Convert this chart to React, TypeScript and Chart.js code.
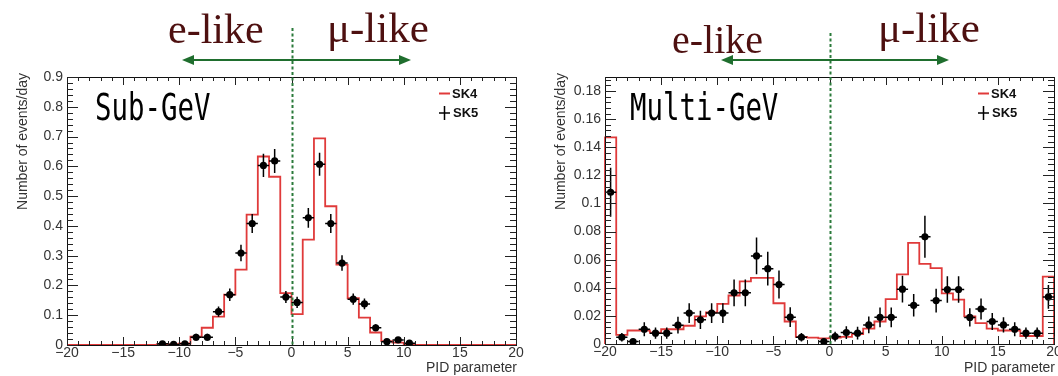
import React, { useEffect, useRef } from "react";
import { Chart, registerables } from "chart.js";

Chart.register(...registerables);

// ---------- data ----------
const BIN_EDGES = [
  -20, -19, -18, -17, -16, -15, -14, -13, -12, -11, -10, -9, -8, -7, -6, -5, -4, -3, -2, -1,
  0, 1, 2, 3, 4, 5, 6, 7, 8, 9, 10, 11, 12, 13, 14, 15, 16, 17, 18, 19, 20,
];

// Sub-GeV, SK4 histogram (one value per bin)
const SUB_SK4 = [
  0, 0, 0, 0, 0, 0, 0, 0, 0.002, 0.003, 0.005, 0.028, 0.058, 0.095, 0.169, 0.253, 0.438, 0.633, 0.565, 0.174,
  0.104, 0.354, 0.694, 0.466, 0.27, 0.157, 0.092, 0.042, 0.013, 0.008, 0.003, 0, 0, 0, 0, 0, 0, 0, 0, 0,
];
// Sub-GeV, SK5 data points
const SUB_SK5_X = [
  -11.5, -10.5, -9.5, -8.5, -7.5, -6.5, -5.5, -4.5, -3.5, -2.5, -1.5, -0.5,
  0.5, 1.5, 2.5, 3.5, 4.5, 5.5, 6.5, 7.5, 8.5, 9.5, 10.5,
];
const SUB_SK5_Y = [
  0.004, 0.002, 0.004, 0.026, 0.026, 0.112, 0.169, 0.309, 0.408, 0.603, 0.618, 0.161,
  0.143, 0.427, 0.607, 0.408, 0.275, 0.154, 0.138, 0.058, 0.011, 0.017, 0.006,
];
const SUB_SK5_ERR = [
  0.005, 0.004, 0.005, 0.012, 0.012, 0.017, 0.021, 0.028, 0.032, 0.039, 0.04, 0.02,
  0.019, 0.033, 0.039, 0.032, 0.026, 0.019, 0.018, 0.012, 0.005, 0.006, 0.004,
];

// Multi-GeV, SK4 histogram
const MULTI_SK4 = [
  0.147, 0.0065, 0.0096, 0.0096, 0.008, 0.0105, 0.0105, 0.013, 0.0196, 0.0225,
  0.0285, 0.0345, 0.0445, 0.047, 0.047, 0.029, 0.016, 0.005, 0.0045, 0.004,
  0.0045, 0.005, 0.007, 0.011, 0.016, 0.032, 0.0495, 0.072, 0.057, 0.054,
  0.036, 0.0316, 0.0196, 0.0148, 0.011, 0.0096, 0.0096, 0.0057, 0.0057, 0.048,
];
// Multi-GeV, SK5 data points
const MULTI_SK5_X = [
  -19.5, -18.5, -17.5, -16.5, -15.5, -14.5, -13.5, -12.5, -11.5, -10.5, -9.5, -8.5, -7.5, -6.5,
  -5.5, -4.5, -3.5, -2.5, -0.5, 0.5, 1.5, 2.5, 3.5, 4.5, 5.5, 6.5, 7.5, 8.5, 9.5, 10.5,
  11.5, 12.5, 13.5, 14.5, 15.5, 16.5, 17.5, 18.5, 19.5,
];
const MULTI_SK5_Y = [
  0.108, 0.0048, 0.0017, 0.0105, 0.0077, 0.0077, 0.0134, 0.022, 0.0172, 0.022, 0.022, 0.0364, 0.0364, 0.0627,
  0.0536, 0.0423, 0.0191, 0.0048, 0.0017, 0.0053, 0.0081, 0.0077, 0.0136, 0.019, 0.019, 0.039, 0.0275, 0.0763, 0.0309, 0.0388,
  0.0388, 0.0189, 0.0249, 0.016, 0.0136, 0.0105, 0.0077, 0.0077, 0.0335,
];
const MULTI_SK5_ERR = [
  0.0175, 0.003, 0.002, 0.005, 0.004, 0.004, 0.006, 0.007, 0.0065, 0.007, 0.007, 0.0095, 0.0095, 0.013,
  0.012, 0.01, 0.007, 0.003, 0.002, 0.0035, 0.0045, 0.0045, 0.006, 0.007, 0.007, 0.0095, 0.008, 0.015, 0.0085, 0.0095,
  0.0095, 0.0065, 0.0075, 0.006, 0.0055, 0.005, 0.004, 0.004, 0.0085,
];

const X_TICKS = [-20, -15, -10, -5, 0, 5, 10, 15, 20];
const SUB_Y_TICKS = [0, 0.1, 0.2, 0.3, 0.4, 0.5, 0.6, 0.7, 0.8, 0.9];
const MULTI_Y_TICKS = [0, 0.02, 0.04, 0.06, 0.08, 0.1, 0.12, 0.14, 0.16, 0.18];
const SUB_Y_MAX = 0.9;
const MULTI_Y_MAX = 0.19;

const PANEL_TITLES = ["Sub-GeV", "Multi-GeV"];
const SIDE_LABELS = ["e-like", "μ-like"];
const LEGEND_LABELS = ["SK4", "SK5"];
const Y_TITLE = "Number of events/day";
const X_TITLE = "PID parameter";

// ---------- styling ----------
const RED = "#e03a3a";
const GREEN = "#1f6e2e";
const MAROON = "#4e1010";
const SANS = "'Liberation Sans', Arial, sans-serif";

type PanelCfg = {
  key: string;
  left: number;
  width: number;
  height: number;
  plotLeft: number;
  plotRight: number;
  plotTop: number;
  plotBottom: number;
  yMax: number;
  yTicks: number[];
  sk4: number[];
  sk5x: number[];
  sk5y: number[];
  sk5err: number[];
  title: string;
  titleX: number;
  yTitleX: number;
  eLike: { x: number; y: number; size: number };
  muLike: { x: number; y: number; size: number };
  arrow: { x1: number; x2: number; y: number };
  dashTop: number;
  legendX: number;
};

const fmtY = (v: number) => (v === 0 ? "0" : String(parseFloat(v.toFixed(3))));
const fmtX = (v: number) => (v < 0 ? "\u2212" + String(-v) : String(v));

function makePlugin(cfg: PanelCfg) {
  return {
    id: "decor_" + cfg.key,
    afterDatasetsDraw(chart: any) {
      const ctx = chart.ctx;
      const xs = chart.scales.x;
      const ys = chart.scales.y;
      ctx.save();
      ctx.strokeStyle = "#000";
      ctx.lineWidth = 1.5;
      cfg.sk5x.forEach((x, i) => {
        const y = cfg.sk5y[i];
        const e = cfg.sk5err[i];
        const px = xs.getPixelForValue(x);
        const py = ys.getPixelForValue(y);
        ctx.beginPath();
        ctx.moveTo(px, ys.getPixelForValue(Math.max(0, y - e)));
        ctx.lineTo(px, ys.getPixelForValue(y + e));
        ctx.moveTo(xs.getPixelForValue(x - 0.5), py);
        ctx.lineTo(xs.getPixelForValue(x + 0.5), py);
        ctx.stroke();
      });
      ctx.restore();
    },
    afterDraw(chart: any) {
      const ctx = chart.ctx;
      const a = chart.chartArea;
      const xs = chart.scales.x;
      const ys = chart.scales.y;
      ctx.save();
      // frame
      ctx.strokeStyle = "#111";
      ctx.lineWidth = 1;
      ctx.strokeRect(Math.round(a.left) + 0.5, Math.round(a.top) + 0.5, Math.round(a.right - a.left), Math.round(a.bottom - a.top));
      // x ticks (top & bottom, inward)
      ctx.strokeStyle = "#222";
      ctx.beginPath();
      for (let v = -20; v <= 20; v += 1) {
        const px = Math.round(xs.getPixelForValue(v)) + 0.5;
        const len = v % 5 === 0 ? 8 : 4;
        ctx.moveTo(px, a.bottom);
        ctx.lineTo(px, a.bottom - len);
        ctx.moveTo(px, a.top);
        ctx.lineTo(px, a.top + len);
      }
      // y ticks (left & right, inward)
      const step = cfg.yTicks[1] - cfg.yTicks[0];
      const minor = step / 5;
      for (let k = 0; k * minor <= cfg.yMax + 1e-9; k++) {
        const v = k * minor;
        const py = Math.round(ys.getPixelForValue(v)) + 0.5;
        const len = k % 5 === 0 ? 11 : 6;
        ctx.moveTo(a.left, py);
        ctx.lineTo(a.left + len, py);
        ctx.moveTo(a.right, py);
        ctx.lineTo(a.right - len, py);
      }
      ctx.stroke();

      // dashed green line at x = 0
      const x0 = Math.round(xs.getPixelForValue(0)) + 0.5;
      ctx.strokeStyle = "#2a7a3a";
      ctx.lineWidth = 2;
      ctx.setLineDash([3, 2.5]);
      ctx.beginPath();
      ctx.moveTo(x0, cfg.dashTop);
      ctx.lineTo(x0, a.bottom);
      ctx.stroke();
      ctx.setLineDash([]);

      // arrow
      const { x1, x2, y } = cfg.arrow;
      ctx.strokeStyle = GREEN;
      ctx.fillStyle = GREEN;
      ctx.lineWidth = 2.2;
      ctx.beginPath();
      ctx.moveTo(x1 + 6, y);
      ctx.lineTo(x2 - 6, y);
      ctx.stroke();
      ctx.beginPath();
      ctx.moveTo(x1, y);
      ctx.lineTo(x1 + 12, y - 5);
      ctx.lineTo(x1 + 12, y + 5);
      ctx.closePath();
      ctx.fill();
      ctx.beginPath();
      ctx.moveTo(x2, y);
      ctx.lineTo(x2 - 12, y - 5);
      ctx.lineTo(x2 - 12, y + 5);
      ctx.closePath();
      ctx.fill();

      // e-like / mu-like
      ctx.fillStyle = MAROON;
      ctx.textAlign = "left";
      ctx.textBaseline = "alphabetic";
      ctx.font = `${cfg.eLike.size}px 'Liberation Serif', 'Times New Roman', serif`;
      ctx.fillText(SIDE_LABELS[0], cfg.eLike.x, cfg.eLike.y);
      ctx.font = `${cfg.muLike.size}px 'Liberation Serif', 'Times New Roman', serif`;
      ctx.fillText(SIDE_LABELS[1], cfg.muLike.x, cfg.muLike.y);

      // panel title (condensed mono)
      ctx.save();
      ctx.fillStyle = "#000";
      ctx.font = "37px 'DejaVu Sans Mono', monospace";
      ctx.translate(cfg.titleX, 120);
      ctx.scale(0.74, 1);
      ctx.fillText(cfg.title, 0, 0);
      ctx.restore();

      // legend
      const lx = cfg.legendX;
      ctx.strokeStyle = RED;
      ctx.lineWidth = 2;
      ctx.beginPath();
      ctx.moveTo(lx, 93.5);
      ctx.lineTo(lx + 11, 93.5);
      ctx.stroke();
      ctx.strokeStyle = "#000";
      ctx.lineWidth = 1.5;
      ctx.beginPath();
      ctx.moveTo(lx, 113);
      ctx.lineTo(lx + 11, 113);
      ctx.moveTo(lx + 5.5, 106);
      ctx.lineTo(lx + 5.5, 120);
      ctx.stroke();
      ctx.fillStyle = "#111";
      ctx.font = `bold 13px ${SANS}`;
      ctx.textBaseline = "middle";
      ctx.fillText(LEGEND_LABELS[0], lx + 13, 94);
      ctx.fillText(LEGEND_LABELS[1], lx + 14, 113);

      // axis titles
      ctx.fillStyle = "#333";
      ctx.font = `14px ${SANS}`;
      ctx.textAlign = "right";
      ctx.textBaseline = "middle";
      ctx.fillText(X_TITLE, a.right + 1, 368);
      ctx.save();
      ctx.translate(cfg.yTitleX, 73);
      ctx.rotate(-Math.PI / 2);
      ctx.textAlign = "right";
      ctx.fillText(Y_TITLE, 0, 0);
      ctx.restore();

      ctx.restore();
    },
  };
}

function histPoints(vals: number[]) {
  const n = vals.length;
  const pts = [{ x: BIN_EDGES[0], y: 0 }];
  vals.forEach((v, i) => pts.push({ x: BIN_EDGES[i], y: v }));
  pts.push({ x: BIN_EDGES[n], y: vals[n - 1] });
  pts.push({ x: BIN_EDGES[n], y: 0 });
  return pts;
}

function Panel({ cfg }: { cfg: PanelCfg }) {
  const ref = useRef<HTMLCanvasElement | null>(null);
  useEffect(() => {
    const canvas = ref.current;
    if (!canvas) return;
    const chart = new Chart(canvas, {
      type: "scatter",
      data: {
        datasets: [
          {
            label: LEGEND_LABELS[1],
            data: cfg.sk5x.map((x, i) => ({ x, y: cfg.sk5y[i] })),
            pointRadius: 3.6,
            pointBackgroundColor: "#000",
            pointBorderColor: "#000",
            pointBorderWidth: 0,
            showLine: false,
            order: 0,
          },
          {
            label: LEGEND_LABELS[0],
            data: histPoints(cfg.sk4),
            showLine: true,
            stepped: "before",
            borderColor: RED,
            borderWidth: 1.8,
            pointRadius: 0,
            fill: false,
            clip: false,
            order: 1,
          } as any,
        ],
      },
      options: {
        animation: false,
        responsive: false,
        devicePixelRatio: 1,
        events: [],
        layout: {
          padding: {
            left: 0,
            right: cfg.width - cfg.plotRight,
            top: cfg.plotTop,
            bottom: 0,
          },
        },
        plugins: { legend: { display: false }, tooltip: { enabled: false } },
        scales: {
          x: {
            type: "linear",
            min: BIN_EDGES[0],
            max: BIN_EDGES[BIN_EDGES.length - 1],
            grid: { display: false, drawTicks: false },
            border: { display: false },
            afterBuildTicks: (s: any) => {
              s.ticks = X_TICKS.map((v) => ({ value: v }));
            },
            afterFit: (s: any) => {
              s.height = cfg.height - cfg.plotBottom;
              s.paddingLeft = 0;
              s.paddingRight = 0;
            },
            ticks: {
              callback: (v: any) => fmtX(Number(v)),
              font: { family: SANS, size: 14 },
              color: "#333",
              padding: 0,
              maxRotation: 0,
              autoSkip: false,
            },
          },
          y: {
            type: "linear",
            min: 0,
            max: cfg.yMax,
            grid: { display: false, drawTicks: false },
            border: { display: false },
            afterBuildTicks: (s: any) => {
              s.ticks = cfg.yTicks.map((v) => ({ value: v }));
            },
            afterFit: (s: any) => {
              s.width = cfg.plotLeft;
              s.paddingTop = 0;
              s.paddingBottom = 0;
            },
            ticks: {
              callback: (v: any) => fmtY(Number(v)),
              font: { family: SANS, size: 14 },
              color: "#333",
              padding: 4,
              autoSkip: false,
            },
          },
        },
      },
      plugins: [makePlugin(cfg)],
    } as any);
    return () => chart.destroy();
  }, [cfg]);
  return (
    <canvas
      ref={ref}
      width={cfg.width}
      height={cfg.height}
      style={{ position: "absolute", left: cfg.left, top: 0, width: cfg.width, height: cfg.height }}
    />
  );
}

const SUB_CFG: PanelCfg = {
  key: "sub",
  left: 0,
  width: 530,
  height: 376,
  plotLeft: 67,
  plotRight: 516,
  plotTop: 77,
  plotBottom: 345,
  yMax: SUB_Y_MAX,
  yTicks: SUB_Y_TICKS,
  sk4: SUB_SK4,
  sk5x: SUB_SK5_X,
  sk5y: SUB_SK5_Y,
  sk5err: SUB_SK5_ERR,
  title: PANEL_TITLES[0],
  titleX: 95,
  yTitleX: 23,
  eLike: { x: 168, y: 43, size: 42 },
  muLike: { x: 327, y: 42, size: 43 },
  arrow: { x1: 182, x2: 411, y: 60 },
  dashTop: 28,
  legendX: 439,
};

const MULTI_CFG: PanelCfg = {
  key: "multi",
  left: 530,
  width: 528,
  height: 376,
  plotLeft: 75,
  plotRight: 526,
  plotTop: 77,
  plotBottom: 344,
  yMax: MULTI_Y_MAX,
  yTicks: MULTI_Y_TICKS,
  sk4: MULTI_SK4,
  sk5x: MULTI_SK5_X,
  sk5y: MULTI_SK5_Y,
  sk5err: MULTI_SK5_ERR,
  title: PANEL_TITLES[1],
  titleX: 100,
  yTitleX: 31,
  eLike: { x: 142, y: 53, size: 40 },
  muLike: { x: 348, y: 42, size: 43 },
  arrow: { x1: 191, x2: 419, y: 60 },
  dashTop: 33,
  legendX: 448,
};

export default function App() {
  return (
    <div style={{ position: "fixed", left: 0, top: 0, width: 1058, height: 376, background: "#fff", overflow: "hidden" }}>
      <Panel cfg={SUB_CFG} />
      <Panel cfg={MULTI_CFG} />
    </div>
  );
}
